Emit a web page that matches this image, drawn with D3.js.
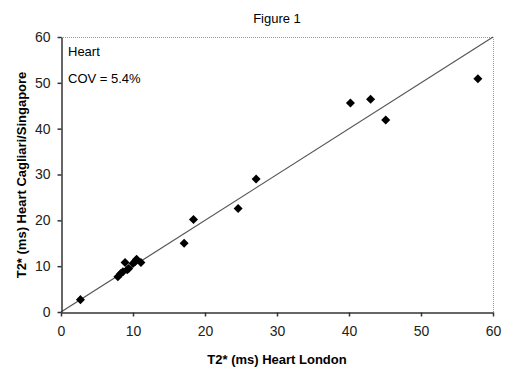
<!DOCTYPE html>
<html>
<head>
<meta charset="utf-8">
<script src="https://cdn.jsdelivr.net/npm/d3@7"></script>
<style>
  body { margin: 0; background: #fff; }
  text { font-family: Arial, "Liberation Sans", sans-serif; }
</style>
</head>
<body>
<div id="chart"></div>
<script>
// T2* values (London vs Cagliari/Singapore)
var londonT2 = [2.7, 7.9, 8.3, 8.6, 8.9, 9.2, 9.4, 10.0, 10.3, 10.5, 11.1, 17.1, 18.4, 24.6, 27.1, 40.2, 43.0, 45.1, 57.9];
var cagliariT2 = [2.7, 7.7, 8.4, 8.8, 10.8, 9.2, 9.5, 10.6, 11.0, 11.5, 10.8, 15.0, 20.2, 22.6, 29.0, 45.6, 46.4, 41.9, 50.9];
var tickValues = [0, 10, 20, 30, 40, 50, 60];

var width = 520, height = 375;
var plotLeft = 61, plotRight = 493, plotTop = 37, plotBottom = 312;

var svg = d3.select("#chart").append("svg")
    .attr("width", width)
    .attr("height", height);

var x = d3.scaleLinear().domain([0, 60]).range([plotLeft, plotRight]);
var y = d3.scaleLinear().domain([0, 60]).range([plotBottom, plotTop]);

// dotted frame at top and right
svg.append("path")
    .attr("d", "M" + plotLeft + "," + (plotTop + 0.5) + "H" + (plotRight + 0.5) + "V" + plotBottom)
    .attr("fill", "none")
    .attr("stroke", "#999")
    .attr("stroke-dasharray", "1,1");

// line of identity
svg.append("line")
    .attr("x1", x(0)).attr("y1", y(0))
    .attr("x2", x(60)).attr("y2", y(60))
    .attr("stroke", "#555")
    .attr("stroke-width", 1.2);

var xAxis = svg.append("g")
    .attr("transform", "translate(0," + (plotBottom + 0.5) + ")")
    .call(d3.axisBottom(x).tickValues(tickValues).tickSize(4).tickSizeOuter(0).tickPadding(10));

var yAxis = svg.append("g")
    .attr("transform", "translate(" + (plotLeft + 0.5) + ",0)")
    .call(d3.axisLeft(y).tickValues(tickValues).tickSize(4).tickSizeOuter(0).tickPadding(7));

[xAxis, yAxis].forEach(function(g) {
    g.select(".domain").attr("stroke", "#333").attr("stroke-width", 1.5);
    g.selectAll(".tick line").attr("stroke", "#333").attr("stroke-width", 1.5);
    g.selectAll(".tick text")
        .attr("font-size", 14)
        .attr("fill", "#222")
        .style("font-family", "Arial, 'Liberation Sans', sans-serif");
});

// points
var diamond = d3.symbol().type(d3.symbolDiamond2).size(52);
svg.append("g").selectAll("path")
    .data(londonT2)
    .enter()
    .append("path")
    .attr("d", diamond)
    .attr("transform", function(d, i) { return "translate(" + x(d) + "," + y(cagliariT2[i]) + ")"; })
    .attr("fill", "#000");

// titles and labels
svg.append("text")
    .attr("x", 277).attr("y", 23)
    .attr("text-anchor", "middle")
    .attr("font-size", 13)
    .text("Figure 1");

svg.append("text")
    .attr("x", 68).attr("y", 56)
    .attr("font-size", 13)
    .text("Heart");

svg.append("text")
    .attr("x", 68).attr("y", 83)
    .attr("font-size", 13)
    .text("COV = 5.4%");

svg.append("text")
    .attr("x", 277).attr("y", 364)
    .attr("text-anchor", "middle")
    .attr("font-size", 13)
    .attr("font-weight", "bold")
    .text("T2* (ms) Heart London");

svg.append("text")
    .attr("transform", "translate(26,175) rotate(-90)")
    .attr("text-anchor", "middle")
    .attr("font-size", 13)
    .attr("font-weight", "bold")
    .text("T2* (ms) Heart Cagliari/Singapore");
</script>
</body>
</html>
